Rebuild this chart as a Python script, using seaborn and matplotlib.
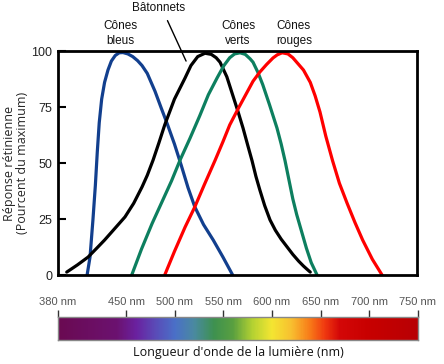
import numpy as np
import pandas as pd
import matplotlib
matplotlib.use('Agg')
import matplotlib.pyplot as plt
import seaborn as sns
from matplotlib.colors import LinearSegmentedColormap

# courbes : longueur d'onde (nm), réponse (%)
bleu_nm = [410, 413, 416, 418.5, 420.5, 422.5, 425, 428, 431.5, 435, 439, 443, 447, 452, 457, 462,
           466.6, 472, 480, 486, 493, 500, 507, 514, 521, 530, 540, 550, 560]
bleu_val = [0, 8, 24.6, 40, 55, 68, 78.5, 86, 91.5, 95.5, 98, 99.2, 99.3, 98.7, 97.5, 95.7,
            93.5, 90, 82, 75, 67, 58.5, 49, 39, 30.4, 22.5, 15.6, 8, 0]

baton_nm = [389, 400, 411, 420, 428, 438, 449, 458, 466.6, 472, 478, 484, 490, 500, 511, 517, 524,
            531.5, 538, 543, 547, 554, 560, 565.5, 570.7, 575.5, 580, 584, 588, 593, 598.5, 604,
            610, 616, 622, 628, 633, 637.6, 640]
baton_val = [1.3, 4.5, 8, 12, 15.6, 20.5, 25.9, 32, 39.3, 44.5, 51.3, 59, 67, 78.5, 88, 93.5, 97.5,
             99, 98.5, 97, 95, 88.5, 80.4, 73, 65.6, 58, 51, 44, 38, 31, 24.6, 20,
             16, 12.6, 9.2, 6.2, 4, 2.2, 1.3]

vert_nm = [456, 466, 477, 487, 497, 506, 516, 526, 535, 544, 551, 557, 562, 567.6, 573, 578, 581,
           586, 591, 598, 605.7, 610, 614, 618, 622, 626, 631, 636, 641, 647]
vert_val = [0, 11.5, 23, 32.5, 42, 51.5, 61, 71, 80.5, 88, 93.5, 97, 98.7, 99.2, 98.5, 96.5, 95,
            90.5, 85, 76, 65.6, 58.5, 51, 42.5, 34, 27, 19.5, 12, 5.5, 0]

rouge_nm = [490, 500, 511, 521, 531, 542, 550, 557, 566, 575, 581, 588, 595, 601.6, 606, 611, 617,
            622, 626, 633, 640, 645, 650, 656, 663, 670, 678, 686, 694, 704, 714]
rouge_val = [0, 10.5, 21.4, 30.4, 40.5, 51.3, 59.5, 67, 74.5, 81.7, 86.5, 90.6, 94, 96.9, 98.3, 99.2,
             98.7, 97, 95, 91.5, 86, 80, 72.8, 62, 51, 41, 32, 23.5, 15.6, 7, 0]

y_ticks = [0, 25, 50, 75, 100]
spectre_ticks = [380, 450, 500, 550, 600, 650, 700, 750]

# couleurs du spectre (nm, couleur)
spectre_nm = [380, 440, 460, 480, 500, 520, 540, 560, 580, 600, 620, 640, 655, 670, 700, 750]
spectre_col = ['#6a0a52', '#6c1270', '#6a22a0', '#5a4cb8', '#4a70c8', '#4a8aa0', '#3e9150', '#5aa040',
               '#b4d232', '#f4e632', '#f8c030', '#f87818', '#f03810', '#d40808', '#c80000', '#b80004']

sns.set_style('white')
plt.rcParams['font.family'] = ['Liberation Sans', 'DejaVu Sans']

fig = plt.figure(figsize=(4.44, 3.64), dpi=100)
ax = fig.add_axes([58 / 444, 89 / 364, 359 / 444, 224 / 364])

courbes = [
    (bleu_nm, bleu_val, '#123f8e'),
    (baton_nm, baton_val, '#000000'),
    (vert_nm, vert_val, '#0d7f5f'),
    (rouge_nm, rouge_val, '#ff0000'),
]
for nm, val, col in courbes:
    df = pd.DataFrame({'nm': nm, 'val': val})
    sns.lineplot(data=df, x='nm', y='val', sort=False, color=col, lw=2.3, ax=ax)
for line in ax.lines:
    line.set_solid_joinstyle('round')

ax.set_xlim(380, 750)
ax.set_ylim(0, 100)
ax.set_xticks([])
ax.set_yticks(y_ticks)
ax.set_yticklabels([str(t) for t in y_ticks], color='#222222', fontsize=9)
ax.tick_params(axis='y', direction='in', length=6, width=1.5, color='black', pad=4, left=True)
ax.set_xlabel('')
ax.set_ylabel('Réponse rétinienne\n(Pourcent du maximum)', fontsize=9, labelpad=2,
              family=['Open Sans', 'DejaVu Sans'], linespacing=1.0)
for s in ax.spines.values():
    s.set_color('black')
    s.set_linewidth(2)

# étiquettes des courbes
kw = dict(ha='center', va='center', fontsize=8.5, color='#111111', linespacing=1.25, clip_on=False)
ax.text(444, 107.8, 'Cônes\nbleus', **kw)
ax.text(565.5, 107.8, 'Cônes\nverts', **kw)
ax.text(623, 107.8, 'Cônes\nrouges', **kw)
ax.annotate('Bâtonnets', xy=(512, 95.5), xytext=(484, 119.4), ha='center', va='center',
            fontsize=8.5, color='#111111', annotation_clip=False,
            arrowprops=dict(arrowstyle='-', color='black', lw=1, relpos=(0.6, 0), shrinkA=3, shrinkB=0))

# barre du spectre
ax2 = fig.add_axes([58 / 444, 24 / 364, 360 / 444, 23 / 364])
pos = [(w - 380) / 370 for w in spectre_nm]
cmap = LinearSegmentedColormap.from_list('spectre', list(zip(pos, spectre_col)))
ax2.imshow(np.linspace(380, 750, 600)[None, :], cmap=cmap, aspect='auto',
           extent=(380, 750, 0, 1), vmin=380, vmax=750)
ax2.set_xlim(380, 750)
ax2.set_yticks([])
ax2.xaxis.tick_top()
ax2.set_xticks(spectre_ticks)
ax2.set_xticklabels([f'{w} nm' for w in spectre_ticks], fontsize=8, color='#555555')
ax2.tick_params(axis='x', direction='out', length=5, width=1, color='#333333', pad=2, top=True, bottom=False)
for s in ax2.spines.values():
    s.set_color('#888888')
    s.set_linewidth(1)
ax2.set_xlabel("Longueur d'onde de la lumière (nm)", fontsize=9, color='#111111', labelpad=4,
               family=['Open Sans', 'DejaVu Sans'])

fig.savefig('out.png', dpi=100)
